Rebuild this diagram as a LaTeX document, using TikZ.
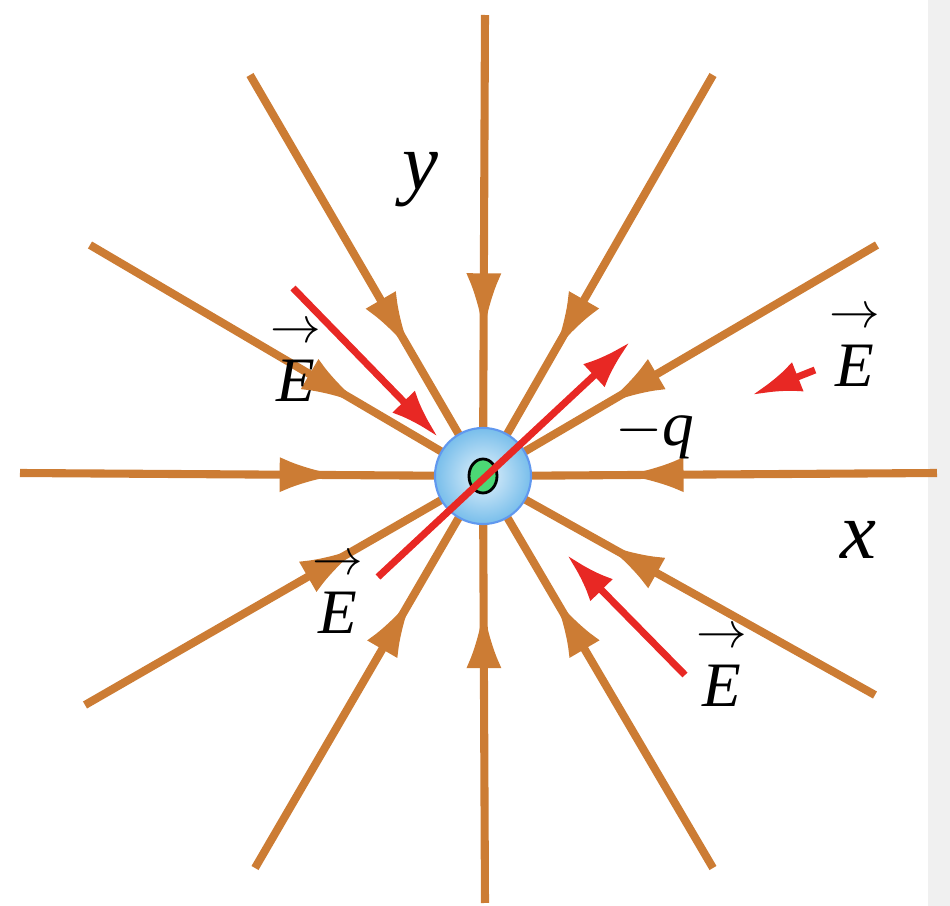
\documentclass[tikz,border=0pt]{standalone}
\usetikzlibrary{arrows.meta,decorations.markings,shapes.geometric}
\usepackage{fontspec}
\setmainfont{Liberation Serif}
\definecolor{fl}{RGB}{204,124,52}
\definecolor{rd}{RGB}{232,40,36}
\definecolor{sph}{RGB}{120,190,235}
\tikzset{
 fline/.style={fl,line width=2.3pt,postaction={decorate},decoration={markings,mark=at position 0.69 with {\arrow{Latex[length=17pt,width=10pt]}}}},
 rline/.style={rd,line width=2pt,-{Latex[length=14pt,width=9pt]}},
 lab/.style={font=\fontsize{18}{20}\selectfont\itshape}
}
\newcommand{\vE}{\begin{tabular}{@{}c@{}}\upshape\fontsize{14}{10}\selectfont$\rightarrow$\\[-3pt]E\end{tabular}}
\begin{document}
\begin{tikzpicture}[x=0.01cm,y=-0.01cm]
\useasboundingbox (0,0) rectangle (950,906);
\fill[gray!12] (928,0) rectangle (950,906);
\coordinate (c) at (483,476);
\foreach \x/\y in {485/15,250/75,713/75,90/245,877/245,20/473,937/473,485/903,255/868,713/868,85/705,875/695}{
  \coordinate (p) at (\x,\y);
  \draw[fline] (p) -- (c);
}
\node[circle,inner sep=0pt, minimum size=0.96cm, draw=sph!80!blue, line width=0.6pt, inner color=sph!20!white, outer color=sph] (q) at (c) {};
\node[ellipse,draw=black,line width=0.8pt,fill=green!55!teal!70,minimum width=0.28cm,minimum height=0.34cm,inner sep=0pt] (qc) at (c) {};
\coordinate (r1s) at (293,288); \coordinate (r1e) at (438,437);
\coordinate (r2s) at (378,577); \coordinate (r2e) at (630,342);
\coordinate (r3s) at (815,370); \coordinate (r3e) at (752,395);
\coordinate (r4s) at (685,675); \coordinate (r4e) at (567,555);
\draw[rline] (r1s) -- (r1e);
\draw[rline] (r2s) -- (r2e);
\draw[rline] (r3s) -- (r3e);
\draw[rline] (r4s) -- (r4e);
\node[lab,font=\fontsize{23}{24}\selectfont\itshape] (ly) at (420,180) {y};
\node[lab,font=\fontsize{23}{24}\selectfont\itshape] (lx) at (858,540) {x};
\node[lab] (lq) at (655,435) {\upshape$-$\itshape q};
\node[lab,align=center] (e1) at (296,358) {\vE};
\node[lab,align=center] (e2) at (855,343) {\vE};
\node[lab,align=center] (e3) at (338,590) {\vE};
\node[lab,align=center] (e4) at (722,663) {\vE};
\end{tikzpicture}
\end{document}
